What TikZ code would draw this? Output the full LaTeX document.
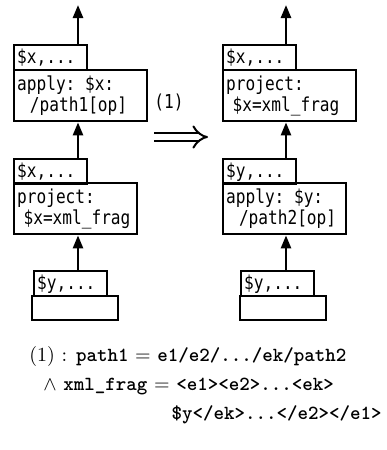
\documentclass[tikz,border=0pt]{standalone}
\usepackage{amsmath}
\usepackage{fontspec}
\usepackage{tikz}
\usetikzlibrary{positioning, arrows.meta}
\newfontfamily\boxfont[FakeStretch=0.84]{DejaVu Sans Mono}
\tikzstyle{tagbox} = [rectangle, draw=black, line width=1.2pt, anchor=north west, minimum width=36.5pt, minimum height=12.5pt, inner sep=1.5pt, text width=33.5pt, align=left, font=\boxfont\fontsize{9.6}{10}\selectfont]
\tikzstyle{opbox} = [rectangle, draw=black, line width=1.2pt, anchor=north west, minimum height=25.5pt, inner sep=1.5pt, align=left, font=\boxfont\fontsize{9.6}{10.5}\selectfont]
\tikzstyle{leafbox} = [rectangle, draw=black, line width=1.2pt, anchor=north west, minimum width=43pt, minimum height=12pt]
\tikzstyle{arrow} = [line width=1.3pt, -{Triangle[width=5pt,length=6.5pt]}]
\tikzstyle{cond} = [inner sep=0pt, font=\fontsize{10}{12}\selectfont]

\begin{document}
\begin{tikzpicture}[x=0.5pt, y=-0.5pt]
			\useasboundingbox (0,0) rectangle (386,450);
			% Nodes
			\coordinate (left_out) at (78,5);
			\node (left_tag1) [tagbox] at (13,44) {\$x,...};
			\node (left_apply) [opbox, text width=63.5pt] at (13,69) {apply: \$x:\\~~/path1[op]};
			\node (left_tag2) [tagbox] at (13,158) {\$x,...};
			\node (left_project) [opbox, text width=58.5pt] at (13,182) {project:\\~\$x=xml\_frag};
			\node (left_tag3) [tagbox] at (33,270) {\$y,...};
			\node (left_leaf) [leafbox] at (31,295) {};
			
			\coordinate (right_out) at (286,5);
			\node (right_tag1) [tagbox] at (222,44) {\$x,...};
			\node (right_project) [opbox, text width=63.5pt] at (222,69) {project:\\~\$x=xml\_frag};
			\node (right_tag2) [tagbox] at (222,158) {\$y,...};
			\node (right_apply) [opbox, text width=58.5pt] at (222,182) {apply: \$y:\\~~/path2[op]};
			\node (right_tag3) [tagbox] at (240,270) {\$y,...};
			\node (right_leaf) [leafbox] at (239,295) {};
			
			\node (rule_label) [font=\boxfont\fontsize{9.6}{10}\selectfont] at (169,102) {(1)};
			\coordinate (rule_from) at (154,137);
			\coordinate (rule_to) at (208,137);
			
			\node (cond1) [cond, anchor=base west] at (29,361) {$(1)$ : \texttt{\textbf{path1}} $=$ \texttt{\textbf{e1/e2/.../ek/path2}}};
			\node (cond2) [cond, anchor=base west] at (43,390) {$\wedge$ \texttt{\textbf{xml\_frag}} $=$ \texttt{\textbf{<e1><e2>...<ek>}}};
			\node (cond3) [cond, anchor=base east] at (382,419) {\texttt{\textbf{\$y</ek>...</e2></e1>}}};
			
			% Arrows
			\draw [arrow] (left_tag1.north -| left_out) -- (left_out);
			\draw [arrow] (left_tag2.north -| left_out) -- (left_apply.south -| left_out);
			\draw [arrow] (left_tag3.north -| left_out) -- (left_project.south -| left_out);
			
			\draw [arrow] (right_tag1.north -| right_out) -- (right_out);
			\draw [arrow] (right_tag2.north -| right_out) -- (right_project.south -| right_out);
			\draw [arrow] (right_tag3.north -| right_out) -- (right_apply.south -| right_out);
			
			\draw [double, line width=1pt, double distance=3pt, -{Implies[scale=1.2]}] (rule_from) -- (rule_to);
		\end{tikzpicture}
\end{document}
